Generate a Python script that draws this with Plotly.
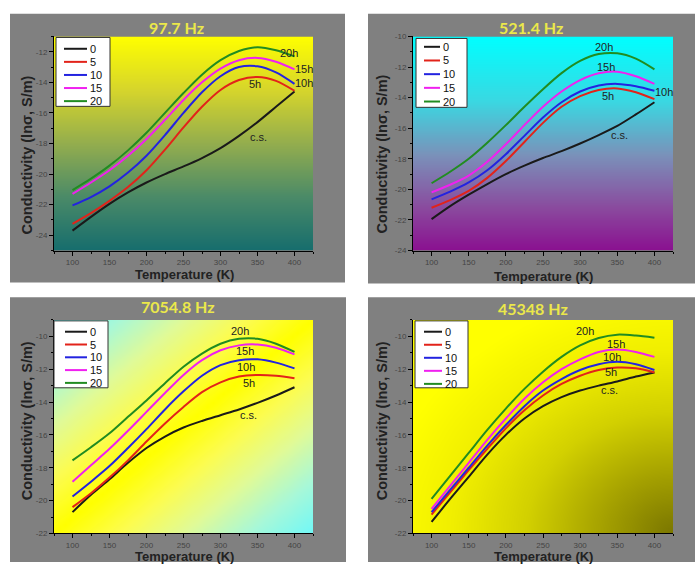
import numpy as np
import plotly.graph_objects as go

W, H = 695, 567

T = [100, 125, 150, 175, 200, 225, 250, 275, 300, 325, 350, 375, 400]
series_names = ["0", "5", "10", "15", "20"]
series_colors = ["#1a1a1a", "#e2231a", "#2323e0", "#f020f0", "#218c21"]
freq_titles = ["97.7 Hz", "521.4 Hz", "7054.8 Hz", "45348 Hz"]

p1_s0 = [-23.7, -22.8, -21.95, -21.2, -20.55, -20.0, -19.5, -18.95, -18.3, -17.5, -16.6, -15.6, -14.6]
p1_s5 = [-23.25, -22.55, -21.75, -20.85, -19.75, -18.4, -16.95, -15.6, -14.5, -13.85, -13.65, -13.9, -14.55]
p1_s10 = [-22.05, -21.5, -20.8, -19.9, -18.8, -17.45, -16.0, -14.65, -13.6, -13.0, -12.95, -13.35, -14.1]
p1_s15 = [-21.3, -20.55, -19.75, -18.8, -17.7, -16.45, -15.15, -14.0, -13.1, -12.55, -12.4, -12.65, -13.15]
p1_s20 = [-21.05, -20.3, -19.45, -18.45, -17.3, -16.0, -14.7, -13.5, -12.55, -11.95, -11.7, -11.9, -12.3]

p2_s0 = [-21.95, -21.1, -20.35, -19.65, -19.0, -18.45, -17.95, -17.5, -17.0, -16.45, -15.85, -15.1, -14.3]
p2_s5 = [-21.2, -20.7, -20.1, -19.25, -18.15, -16.9, -15.65, -14.6, -13.9, -13.5, -13.4, -13.65, -14.1]
p2_s10 = [-20.65, -20.15, -19.55, -18.75, -17.7, -16.5, -15.3, -14.3, -13.6, -13.2, -13.1, -13.25, -13.55]
p2_s15 = [-20.2, -19.7, -19.1, -18.2, -17.05, -15.8, -14.6, -13.6, -12.85, -12.4, -12.3, -12.6, -13.1]
p2_s20 = [-19.6, -18.85, -18.0, -16.95, -15.8, -14.6, -13.45, -12.4, -11.6, -11.15, -11.1, -11.45, -12.15]

p3_s0 = [-20.7, -19.65, -18.7, -17.7, -16.8, -16.1, -15.55, -15.15, -14.8, -14.45, -14.05, -13.6, -13.1]
p3_s5 = [-20.4, -19.55, -18.6, -17.55, -16.4, -15.3, -14.3, -13.4, -12.8, -12.45, -12.35, -12.4, -12.55]
p3_s10 = [-19.75, -18.85, -17.9, -16.8, -15.65, -14.45, -13.35, -12.4, -11.75, -11.45, -11.4, -11.6, -11.95]
p3_s15 = [-18.85, -17.85, -16.85, -15.75, -14.6, -13.45, -12.35, -11.45, -10.85, -10.55, -10.5, -10.7, -11.1]
p3_s20 = [-17.55, -16.75, -15.9, -14.9, -13.9, -12.85, -11.85, -11.05, -10.45, -10.15, -10.15, -10.45, -10.95]

p4_s0 = [-21.3, -19.9, -18.55, -17.2, -16.0, -15.0, -14.25, -13.7, -13.3, -13.0, -12.75, -12.45, -12.2]
p4_s5 = [-20.85, -19.5, -18.15, -16.85, -15.6, -14.5, -13.6, -12.9, -12.4, -12.05, -11.9, -11.95, -12.2]
p4_s10 = [-20.7, -19.35, -18.0, -16.65, -15.4, -14.25, -13.3, -12.6, -12.05, -11.7, -11.55, -11.7, -12.05]
p4_s15 = [-20.5, -19.1, -17.7, -16.3, -15.0, -13.8, -12.8, -12.0, -11.4, -10.95, -10.8, -10.95, -11.25]
p4_s20 = [-19.9, -18.5, -17.1, -15.7, -14.4, -13.2, -12.15, -11.25, -10.55, -10.1, -9.9, -9.95, -10.08]

panel_series = [
    [p1_s0, p1_s5, p1_s10, p1_s15, p1_s20],
    [p2_s0, p2_s5, p2_s10, p2_s15, p2_s20],
    [p3_s0, p3_s5, p3_s10, p3_s15, p3_s20],
    [p4_s0, p4_s5, p4_s10, p4_s15, p4_s20],
]

curve_labels = ["c.s.", "5h", "10h", "15h", "20h"]
label_pos = [
    [(351, -17.55), (347, -14.1), (413, -14.05), (413, -13.1), (392, -12.1)],
    [(353, -16.45), (337, -13.9), (413, -13.6), (335, -12.0), (332, -10.7)],
    [(338, -14.76), (338, -12.83), (335, -11.87), (333, -10.9), (326, -9.68)],
    [(339, -13.29), (341, -12.17), (343, -11.25), (348, -10.44), (307, -9.68)],
]

y_ranges = [(-25, -11), (-24, -10), (-22, -9), (-22, -9)]
y_ticks = [list(range(-24, -11, 2)), list(range(-24, -9, 2)), list(range(-22, -9, 2)), list(range(-22, -9, 2))]
x_ticks = [100, 150, 200, 250, 300, 350, 400]
x_range = (75, 425)

# pixel layout
plot_px = [(54, 313, 33, 250.5), (413, 673, 33, 250.5), (54, 313, 321, 538), (413, 673, 321, 538)]
gray_px = [(10, 345, 10, 283), (368, 695, 10, 284), (10, 346, 298, 567), (368, 695, 298, 567)]
title_px = [(176, 24), (531, 24), (178, 307), (533, 309)]
ytitle_px = [(27, 154), (382, 152), (27, 424), (382, 423)]
xtitle_px = [(184, 275), (543, 277), (184, 561), (543, 561)]
legend_box = [(56, 34, 110, 104), (416, 35, 467, 105), (54, 322, 108, 390), (415, 322, 468, 390)]
legend_line = [(64, 87, 45.5, 13.3), (424, 440, 43.5, 13.9), (65, 87, 333, 13.0), (424, 442, 333, 13.25)]

bg_scales = [
    [[0, "#166d6d"], [0.25, "#4a8a68"], [0.5, "#93ad4e"], [0.75, "#d6d52c"], [1, "#ffff00"]],
    [[0, "#8a1090"], [0.2, "#8a4a9e"], [0.45, "#7a92ba"], [0.7, "#3ad8e2"], [1, "#00ffff"]],
    [[0, "#ffff00"], [0.25, "#fcfc50"], [0.5, "#e0fa98"], [0.75, "#a8f8d8"], [1, "#70f8f8"]],
    [[0, "#7a7600"], [0.25, "#a6a200"], [0.5, "#d2d000"], [0.75, "#f0ee00"], [1, "#ffff00"]],
]


def fx(x):
    return x / W


def fy(y):
    return 1 - y / H


fig = go.Figure()
layout = dict(width=W, height=H, margin=dict(l=0, r=0, t=0, b=0),
              paper_bgcolor="white", plot_bgcolor="rgba(0,0,0,0)",
              showlegend=False, font=dict(family="Liberation Sans, Arial"))
shapes = []
annotations = []

for i in range(4):
    xa = "x" if i == 0 else f"x{i+1}"
    ya = "y" if i == 0 else f"y{i+1}"
    xl = "xaxis" if i == 0 else f"xaxis{i+1}"
    yl = "yaxis" if i == 0 else f"yaxis{i+1}"
    x0, x1, y0, y1 = plot_px[i]
    ymin, ymax = y_ranges[i]

    # background gradient
    gx = np.linspace(x_range[0], x_range[1], 50)
    gy = np.linspace(ymin, ymax, 50)
    xn = (gx - x_range[0]) / (x_range[1] - x_range[0])
    yn = (gy - ymin) / (ymax - ymin)
    XN, YN = np.meshgrid(xn, yn)
    if i in (0, 1):
        Z = YN
    elif i == 2:
        Z = np.abs(XN - YN)
    else:
        Z = np.sqrt((1 - XN) ** 2 + YN ** 2) / np.sqrt(2) * 1.25
        Z = np.clip(Z, 0, 1)
    fig.add_trace(go.Heatmap(x=gx, y=gy, z=Z, colorscale=bg_scales[i], zmin=0, zmax=1,
                             zsmooth="best", showscale=False, hoverinfo="skip",
                             xaxis=xa, yaxis=ya))

    for s in range(5):
        fig.add_trace(go.Scatter(x=T, y=panel_series[i][s], mode="lines",
                                 line=dict(color=series_colors[s], width=2, shape="spline", smoothing=0.8),
                                 name=series_names[s], xaxis=xa, yaxis=ya))
        lx, ly = label_pos[i][s]
        annotations.append(dict(x=lx, y=ly, xref=xa, yref=ya, text=curve_labels[s], showarrow=False,
                                font=dict(size=11, color="#222222", family="Liberation Sans, Arial")))

    layout[xl] = dict(domain=[fx(x0), fx(x1)], range=list(x_range), anchor=ya,
                      showline=True, linecolor="black", linewidth=1, ticks="outside", ticklen=4,
                      tickcolor="black", tickvals=x_ticks, showgrid=False, zeroline=False,
                      tickfont=dict(size=8, color="#444444"),
                      minor=dict(ticks="outside", ticklen=2, dtick=25, tick0=0, tickcolor="black"))
    layout[yl] = dict(domain=[fy(y1), fy(y0)], range=[ymin, ymax], anchor=xa,
                      showline=True, linecolor="black", linewidth=1, ticks="outside", ticklen=4,
                      tickcolor="black", tickvals=y_ticks[i], ticktext=[str(v) for v in y_ticks[i]],
                      showgrid=False, zeroline=False, tickfont=dict(size=8, color="#444444"),
                      minor=dict(ticks="outside", ticklen=2, dtick=1, tick0=0, tickcolor="black"))

    gx0, gx1, gy0, gy1 = gray_px[i]
    shapes.append(dict(type="rect", xref="paper", yref="paper", x0=fx(gx0), x1=fx(gx1),
                       y0=fy(gy1), y1=fy(gy0), fillcolor="#808080", line=dict(width=0), layer="below"))

    tx, ty = title_px[i]
    annotations.append(dict(x=fx(tx), y=fy(ty), xref="paper", yref="paper", text=f"<b>{freq_titles[i]}</b>",
                            showarrow=False, xanchor="center", yanchor="middle",
                            font=dict(size=16, color="#ebe84a", family="Lato, Open Sans")))
    yx, yy = ytitle_px[i]
    annotations.append(dict(x=fx(yx), y=fy(yy), xref="paper", yref="paper",
                            text="<b>Conductivity (ln\u03c3, S/m)</b>", textangle=-90, showarrow=False,
                            xanchor="center", yanchor="middle",
                            font=dict(size=14.5, color="#222222", family="Liberation Sans, Arial")))
    xx, xy = xtitle_px[i]
    annotations.append(dict(x=fx(xx), y=fy(xy), xref="paper", yref="paper",
                            text="<b>Temperature (K)</b>", showarrow=False,
                            xanchor="center", yanchor="middle",
                            font=dict(size=13, color="#222222", family="Liberation Sans, Arial")))

    # legend
    bx0, by0, bx1, by1 = legend_box[i]
    shapes.append(dict(type="rect", xref="paper", yref="paper", x0=fx(bx0), x1=fx(bx1),
                       y0=fy(by1), y1=fy(by0), fillcolor="white", line=dict(color="#333333", width=1),
                       layer="above"))
    lx0, lx1, ry0, rdy = legend_line[i]
    for s in range(5):
        ry = ry0 + s * rdy
        shapes.append(dict(type="line", xref="paper", yref="paper", x0=fx(lx0), x1=fx(lx1),
                           y0=fy(ry), y1=fy(ry), line=dict(color=series_colors[s], width=2), layer="above"))
        annotations.append(dict(x=fx(lx1 + 1), y=fy(ry), xref="paper", yref="paper", text=series_names[s],
                                showarrow=False, xanchor="left", yanchor="middle",
                                font=dict(size=11, color="#111111", family="Liberation Sans, Arial")))

layout["shapes"] = shapes
layout["annotations"] = annotations
fig.update_layout(**layout)
fig.write_html("out.html")
